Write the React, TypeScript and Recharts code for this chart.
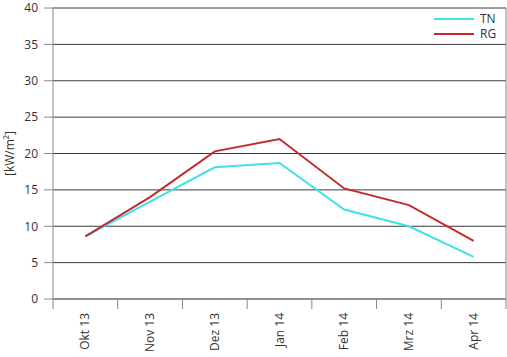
import React from 'react';
import { CartesianGrid, Legend, Line, LineChart, XAxis, YAxis } from 'recharts';

const months = ['Okt 13', 'Nov 13', 'Dez 13', 'Jan 14', 'Feb 14', 'Mrz 14', 'Apr 14'];
const tnValues = [8.6, 13.4, 18.1, 18.7, 12.3, 10.0, 5.8];
const rgValues = [8.6, 14.0, 20.3, 22.0, 15.2, 12.9, 8.0];
const yTicks = [0, 5, 10, 15, 20, 25, 30, 35, 40];

const series = [
  { key: 'TN', color: '#3ee2ea' },
  { key: 'RG', color: '#c42a2a' },
];

const data = months.map((month, i) => ({ month, TN: tnValues[i], RG: rgValues[i] }));

const FONT = '"Open Sans", sans-serif';
const AXIS = '#888';

// label sits below, tick marks go on the band edges, not the centres
function MonthTick({ x, y, payload, index, visibleTicksCount }: any) {
  const half = payload.offset || 0;
  const last = index === visibleTicksCount - 1;
  return (
    <g>
      <line x1={x - half} x2={x - half} y1={y - 14} y2={y - 4} stroke={AXIS} />
      {last && <line x1={x + half} x2={x + half} y1={y - 14} y2={y - 4} stroke={AXIS} />}
      <text
        transform={`translate(${x},${y}) rotate(-90)`}
        textAnchor="end"
        dy={4}
        fontSize={12}
        fontFamily={FONT}
        fill="#333"
      >
        {payload.value}
      </text>
    </g>
  );
}

function ChartLegend() {
  return (
    <div style={{ fontFamily: FONT, fontSize: 12, lineHeight: '14px', color: '#333' }}>
      {series.map((s) => (
        <div key={s.key} style={{ display: 'flex', alignItems: 'center', height: 15 }}>
          <svg width={40} height={4} style={{ marginRight: 6 }}>
            <line x1={0} x2={40} y1={2} y2={2} stroke={s.color} strokeWidth={2} />
          </svg>
          <span>{s.key}</span>
        </div>
      ))}
    </div>
  );
}

export default function App() {
  return (
    <div style={{ position: 'absolute', left: 0, top: 0, background: '#fff' }}>
      <LineChart width={507} height={357} data={data} margin={{ top: 8, right: 0, left: 0, bottom: 0 }}>
        <CartesianGrid vertical={false} stroke="#3a3a3a" />
        <XAxis
          dataKey="month"
          scale="band"
          height={58}
          tickLine={false}
          stroke={AXIS}
          tickSize={0}
          tickMargin={14}
          interval={0}
          tick={<MonthTick />}
        />
        <YAxis
          domain={[0, 40]}
          ticks={yTicks}
          width={53}
          tickSize={9}
          tickMargin={6}
          stroke={AXIS}
          tick={{ fontSize: 12, fontFamily: FONT, fill: '#333' }}
          label={{
            value: '[kW/m²]',
            angle: -90,
            position: 'insideLeft',
            offset: 10,
            style: { fontSize: 12, fontFamily: FONT, fill: '#333', textAnchor: 'middle' },
          }}
        />
        <YAxis
          yAxisId="right"
          orientation="right"
          domain={[0, 40]}
          width={1}
          tick={false}
          tickLine={false}
          stroke={AXIS}
        />
        <Legend
          layout="horizontal"
          verticalAlign="middle"
          align="center"
          wrapperStyle={{ left: 434, top: 11, width: 70 }}
          content={() => <ChartLegend />}
        />
        {series.map((s) => (
          <Line
            key={s.key}
            dataKey={s.key}
            stroke={s.color}
            strokeWidth={2}
            dot={false}
            isAnimationActive={false}
          />
        ))}
      </LineChart>
    </div>
  );
}
